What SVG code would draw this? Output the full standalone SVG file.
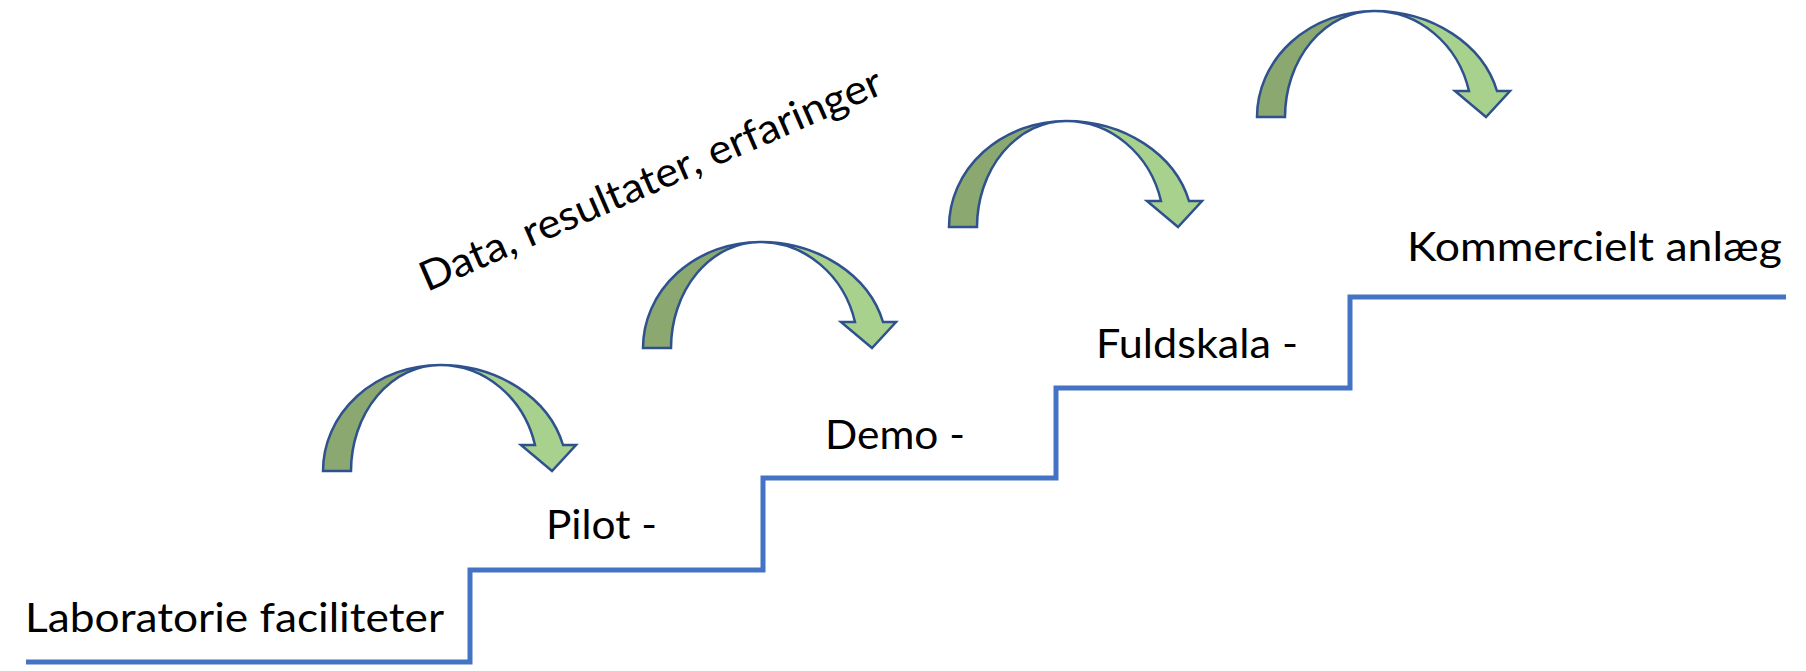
<svg xmlns="http://www.w3.org/2000/svg" width="1806" height="671" viewBox="0 0 1806 671">
<style>
  .lbl { font-family: Lato, "Liberation Sans", sans-serif; font-size: 41px; fill: #000; }
  .dark { fill: #8AA86F; stroke: #2F528F; stroke-width: 2.5; stroke-linejoin: miter; }
  .light { fill: #A9D18E; stroke: #2F528F; stroke-width: 2.5; stroke-linejoin: miter; }
  .stair { fill: none; stroke: #4472C4; stroke-width: 5; stroke-linejoin: miter; }
</style>
<defs>
  <g id="curvedArrow">
    <path class="dark" d="M0,0 A117,106 0 0 1 117,-106 A89,106 0 0 0 28,0 Z"/>
    <path class="light" d="M117,-106 A127,106 0 0 1 240,-26 L253,-26 L229,0 L198,-26 L212,-26 A98,106 0 0 0 117,-106 Z"/>
  </g>
</defs>
<rect width="1806" height="671" fill="#fff"/>
<g id="connectors">
  <path class="stair" d="M26,662 H470 V570 H763 V478 H1056 V388 H1350 V297 H1786"/>
</g>
<g id="arrow1"><use href="#curvedArrow" transform="translate(323,471)"/></g>
<g id="arrow2"><use href="#curvedArrow" transform="translate(643,348)"/></g>
<g id="arrow3"><use href="#curvedArrow" transform="translate(949,227)"/></g>
<g id="arrow4"><use href="#curvedArrow" transform="translate(1257,117)"/></g>
<g id="lab"><text class="lbl" x="25" y="632" textLength="419" lengthAdjust="spacingAndGlyphs">Laboratorie faciliteter</text></g>
<g id="pilot"><text class="lbl" x="546" y="539" textLength="111" lengthAdjust="spacingAndGlyphs">Pilot -</text></g>
<g id="demo"><text class="lbl" x="825" y="449" textLength="140" lengthAdjust="spacingAndGlyphs">Demo -</text></g>
<g id="fuld"><text class="lbl" x="1096" y="358" textLength="202" lengthAdjust="spacingAndGlyphs">Fuldskala -</text></g>
<g id="komm"><text class="lbl" x="1407" y="261" textLength="375" lengthAdjust="spacingAndGlyphs">Kommercielt anlæg</text></g>
<g id="data"><text class="lbl" x="427" y="292" transform="rotate(-23.5 427 292)" textLength="500" lengthAdjust="spacingAndGlyphs">Data, resultater, erfaringer</text></g>
</svg>
